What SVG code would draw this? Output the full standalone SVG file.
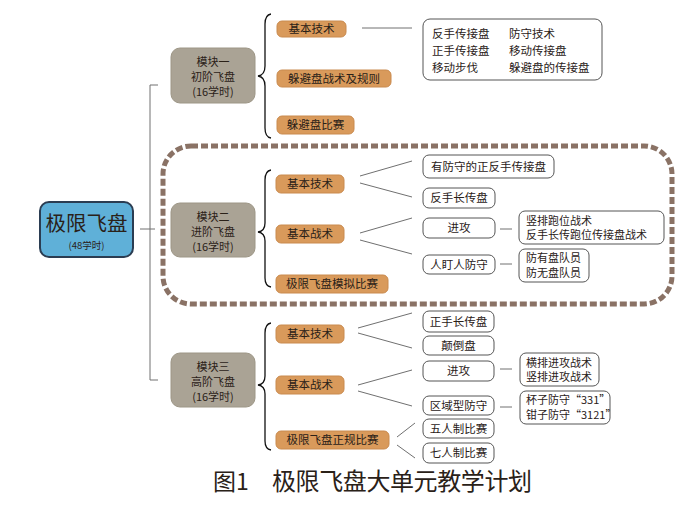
<svg xmlns="http://www.w3.org/2000/svg" width="700" height="509" viewBox="0 0 700 509">
<style>
text{font-family:"Noto Sans CJK SC","Noto Sans",sans-serif;fill:#2a2118}
.t{font-size:11.5px}
.m{font-size:11px}
.c{text-anchor:middle}
.mod rect{fill:#aaa395;stroke:#9d9686;stroke-width:1}
.or rect{fill:#d99a5b;stroke:#c98a4e;stroke-width:1}
.wb rect{fill:#fff;stroke:#555;stroke-width:1}
.ln{stroke:#707070;stroke-width:1;fill:none}
.br{stroke:#111;stroke-width:1.3;fill:none}
</style>
<rect width="700" height="509" fill="#fff"/>
<rect x="163" y="146" width="509" height="158" rx="28" fill="none" stroke="#8a7265" stroke-width="5" stroke-dasharray="7,3"/>
<g id="connectors">
<path class="ln" d="M140,229H155M158,85H150V380H158"/>
<path class="br" d="M271,14Q265,15 265,24L265,66Q265,75 258,76Q265,77 265,86L265,128Q265,137 271,138"/>
<path class="br" d="M271,170Q265,171 265,180L265,223Q265,231 258,232Q265,233 265,241L265,278Q265,286 271,287"/>
<path class="br" d="M271,323Q265,324 265,333L265,376Q265,384 258,385Q265,386 265,394L265,441Q265,449 271,450"/>
<path class="ln" d="M362,28H412"/>
<path class="ln" d="M360,176L412,161M360,183L412,197M360,233L412,218M360,240L412,254M500,229H512M500,264H512"/>
<path class="ln" d="M358,328L412,313M358,333L412,348M358,385L412,370M358,391L412,406M397,437L415,423M397,445L415,458M500,369H512M500,407H512"/>
</g>
<g id="root">
<rect x="40" y="202" width="93" height="55" rx="9" fill="#5fb0d8" stroke="#2b3d52" stroke-width="2"/>
<text x="86.5" y="231" class="c" font-size="20.5">极限飞盘</text>
<text x="86.5" y="248.5" class="c" font-size="9.5">(48学时)</text>
</g>
<g id="m1" class="mod"><rect x="171" y="48" width="84" height="55" rx="9"/>
<text class="m c" x="213" y="66">模块一</text><text class="m c" x="213" y="81">初阶飞盘</text><text class="m c" x="213" y="96">(16学时)</text></g>
<g id="m2" class="mod"><rect x="171" y="203" width="84" height="54" rx="9"/>
<text class="m c" x="213" y="221">模块二</text><text class="m c" x="213" y="236">进阶飞盘</text><text class="m c" x="213" y="251">(16学时)</text></g>
<g id="m3" class="mod"><rect x="171" y="353" width="84" height="54" rx="9"/>
<text class="m c" x="213" y="371">模块三</text><text class="m c" x="213" y="386">高阶飞盘</text><text class="m c" x="213" y="401">(16学时)</text></g>
<g id="m1a" class="or"><rect x="277" y="21" width="69" height="16" rx="5"/><text class="t c" x="311.5" y="33">基本技术</text></g>
<g id="m1b" class="or"><rect x="277" y="70" width="114" height="17" rx="5"/><text class="t c" x="334" y="82.5">躲避盘战术及规则</text></g>
<g id="m1c" class="or"><rect x="277" y="116" width="77" height="18" rx="5"/><text class="t c" x="315.5" y="129">躲避盘比赛</text></g>
<g id="m1d" class="wb"><rect x="423" y="19" width="179" height="61" rx="7"/>
<text class="t" x="432" y="38">反手传接盘</text><text class="t" x="509" y="38">防守技术</text>
<text class="t" x="432" y="55">正手传接盘</text><text class="t" x="509" y="55">移动传接盘</text>
<text class="t" x="432" y="72">移动步伐</text><text class="t" x="509" y="72">躲避盘的传接盘</text></g>
<g id="m2a" class="or"><rect x="276" y="175" width="68" height="18" rx="5"/><text class="t c" x="310" y="188">基本技术</text></g>
<g id="m2b" class="or"><rect x="276" y="225" width="68" height="18" rx="5"/><text class="t c" x="310" y="238">基本战术</text></g>
<g id="m2c" class="or"><rect x="276" y="275" width="112" height="18" rx="5"/><text class="t c" x="332" y="288">极限飞盘模拟比赛</text></g>
<g id="m2d" class="wb"><rect x="423" y="155" width="131" height="23" rx="6"/><text class="t c" x="488.5" y="171">有防守的正反手传接盘</text></g>
<g id="m2e" class="wb"><rect x="423" y="188" width="72" height="20" rx="6"/><text class="t c" x="459" y="202">反手长传盘</text></g>
<g id="m2f" class="wb"><rect x="423" y="218" width="72" height="20" rx="6"/><text class="t c" x="459" y="232">进攻</text></g>
<g id="m2g" class="wb"><rect x="423" y="255" width="72" height="19" rx="6"/><text class="t c" x="459" y="269">人盯人防守</text></g>
<g id="m2h" class="wb"><rect x="519" y="211" width="145" height="33" rx="6"/><text class="m" x="526" y="224.5">竖排跑位战术</text><text class="m" x="526" y="239">反手长传跑位传接盘战术</text></g>
<g id="m2i" class="wb"><rect x="519" y="249" width="70" height="33" rx="6"/><text class="m" x="526" y="262">防有盘队员</text><text class="m" x="526" y="277">防无盘队员</text></g>
<g id="m3a" class="or"><rect x="276" y="325" width="68" height="18" rx="5"/><text class="t c" x="310" y="338">基本技术</text></g>
<g id="m3b" class="or"><rect x="276" y="376" width="68" height="18" rx="5"/><text class="t c" x="310" y="389">基本战术</text></g>
<g id="m3c" class="or"><rect x="276" y="431" width="113" height="18" rx="5"/><text class="t c" x="332.5" y="444">极限飞盘正规比赛</text></g>
<g id="m3d" class="wb"><rect x="423" y="311" width="71" height="21" rx="6"/><text class="t c" x="458.5" y="325.5">正手长传盘</text></g>
<g id="m3e" class="wb"><rect x="423" y="336" width="71" height="19" rx="6"/><text class="t c" x="458.5" y="349.5">颠倒盘</text></g>
<g id="m3f" class="wb"><rect x="423" y="361" width="71" height="20" rx="6"/><text class="t c" x="458.5" y="375">进攻</text></g>
<g id="m3g" class="wb"><rect x="423" y="396" width="71" height="19" rx="6"/><text class="t c" x="458.5" y="410">区域型防守</text></g>
<g id="m3h" class="wb"><rect x="423" y="419" width="71" height="19" rx="6"/><text class="t c" x="458.5" y="433">五人制比赛</text></g>
<g id="m3i" class="wb"><rect x="423" y="443" width="71" height="20" rx="6"/><text class="t c" x="458.5" y="457">七人制比赛</text></g>
<g id="m3j" class="wb"><rect x="520" y="353" width="79" height="33" rx="6"/><text class="m" x="526" y="366.5">横排进攻战术</text><text class="m" x="526" y="381">竖排进攻战术</text></g>
<g id="m3k" class="wb"><rect x="520" y="391" width="90" height="33" rx="6"/><text class="m" x="526" y="404">杯子防守“331”</text><text class="m" x="526" y="419">钳子防守“3121”</text></g>
<g id="caption">
<text x="213" y="490" font-size="23">图1</text>
<text x="272" y="490" font-size="24" textLength="260" lengthAdjust="spacing">极限飞盘大单元教学计划</text>
</g>
</svg>
